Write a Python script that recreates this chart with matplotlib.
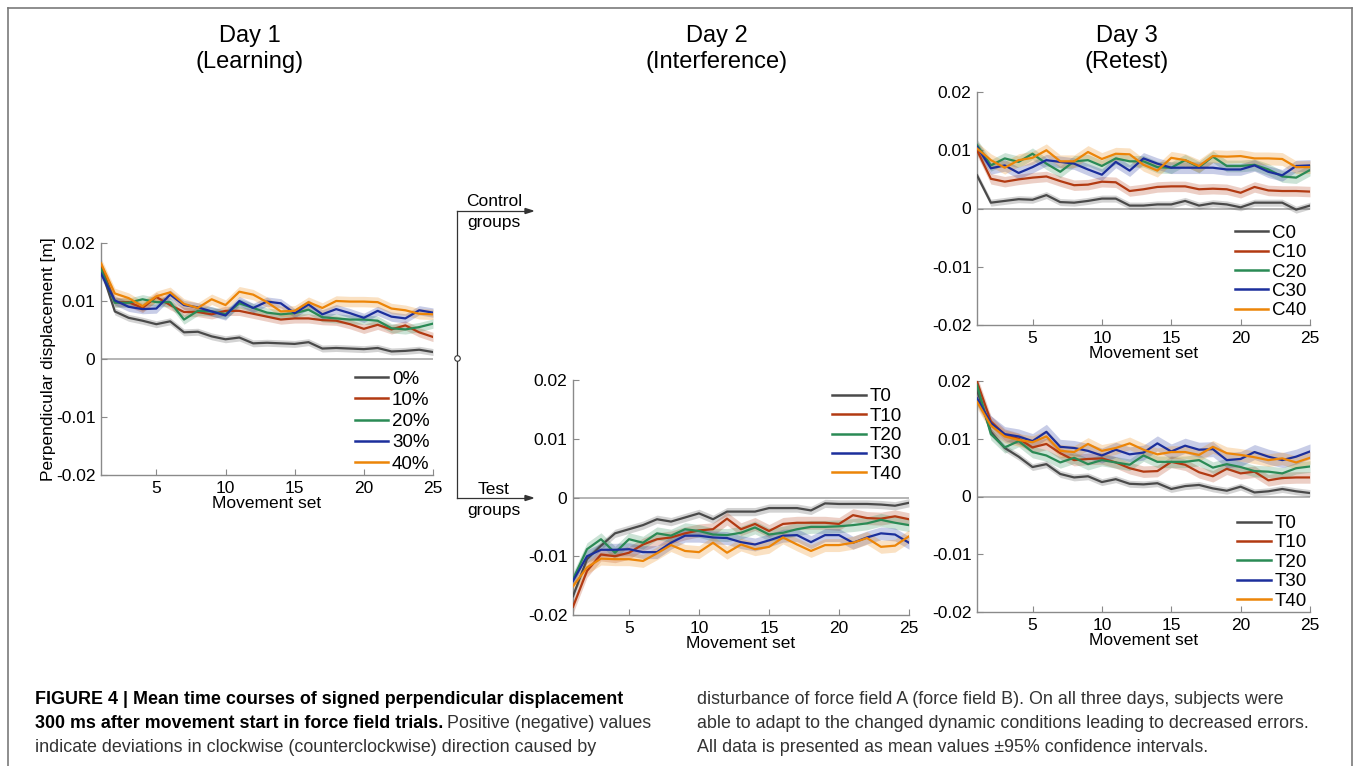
import matplotlib
matplotlib.use("Agg")
import matplotlib.pyplot as plt
from matplotlib.lines import Line2D
import numpy as np

plt.rcParams['font.family'] = ['Liberation Sans', 'DejaVu Sans']

movement_set = list(range(1, 26))

# ---- Day 1 (Learning) ----
day1_labels = ["0%", "10%", "20%", "30%", "40%"]
day1_0 = [0.0155, 0.0082, 0.0071, 0.0066, 0.0060, 0.0065, 0.0046, 0.0047, 0.0039, 0.0034, 0.0037, 0.0027, 0.0028,
          0.0027, 0.0026, 0.0029, 0.0018, 0.0019, 0.0018, 0.0017, 0.0019, 0.0013, 0.0014, 0.0016, 0.0012]
day1_10 = [0.0162, 0.0098, 0.0098, 0.0088, 0.0107, 0.0093, 0.0081, 0.0081, 0.0077, 0.0083, 0.0083, 0.0078, 0.0073,
           0.0068, 0.0070, 0.0070, 0.0067, 0.0066, 0.0060, 0.0052, 0.0059, 0.0051, 0.0058, 0.0046, 0.0038]
day1_20 = [0.0155, 0.0097, 0.0097, 0.0103, 0.0098, 0.0098, 0.0068, 0.0083, 0.0082, 0.0077, 0.0096, 0.0088, 0.0080,
           0.0077, 0.0079, 0.0085, 0.0072, 0.0070, 0.0068, 0.0068, 0.0066, 0.0053, 0.0051, 0.0055, 0.0061]
day1_30 = [0.0147, 0.0101, 0.0090, 0.0086, 0.0087, 0.0111, 0.0093, 0.0089, 0.0082, 0.0075, 0.0100, 0.0088, 0.0099,
           0.0096, 0.0079, 0.0094, 0.0077, 0.0086, 0.0079, 0.0071, 0.0083, 0.0073, 0.0070, 0.0084, 0.0080]
day1_40 = [0.0165, 0.0113, 0.0105, 0.0091, 0.0108, 0.0115, 0.0095, 0.0088, 0.0103, 0.0093, 0.0116, 0.0111, 0.0098,
           0.0082, 0.0083, 0.0098, 0.0088, 0.0100, 0.0099, 0.0099, 0.0098, 0.0087, 0.0084, 0.0078, 0.0077]
day1_ci = [0.0006, 0.0008, 0.0008, 0.0008, 0.0009]

# ---- Day 2 (Interference), test groups ----
day2_labels = ["T0", "T10", "T20", "T30", "T40"]
day2_T0 = [-0.0168, -0.0105, -0.0082, -0.0061, -0.0054, -0.0047, -0.0037, -0.0041, -0.0034, -0.0027, -0.0037, -0.0024,
           -0.0024, -0.0024, -0.0018, -0.0018, -0.0018, -0.0022, -0.0010, -0.0011, -0.0011, -0.0011, -0.0012, -0.0014, -0.0009]
day2_T10 = [-0.0186, -0.0125, -0.0097, -0.0100, -0.0094, -0.0080, -0.0071, -0.0068, -0.0061, -0.0056, -0.0054, -0.0036,
            -0.0054, -0.0045, -0.0057, -0.0045, -0.0043, -0.0043, -0.0043, -0.0045, -0.0030, -0.0035, -0.0036, -0.0032, -0.0037]
day2_T20 = [-0.0139, -0.0088, -0.0071, -0.0094, -0.0071, -0.0077, -0.0061, -0.0065, -0.0054, -0.0057, -0.0063, -0.0064,
            -0.0060, -0.0051, -0.0063, -0.0060, -0.0054, -0.0050, -0.0050, -0.0049, -0.0047, -0.0044, -0.0038, -0.0043, -0.0047]
day2_T30 = [-0.0142, -0.0100, -0.0089, -0.0089, -0.0088, -0.0093, -0.0093, -0.0077, -0.0065, -0.0065, -0.0068, -0.0069,
            -0.0076, -0.0080, -0.0073, -0.0065, -0.0064, -0.0076, -0.0064, -0.0064, -0.0077, -0.0068, -0.0061, -0.0063, -0.0077]
day2_T40 = [-0.0151, -0.0119, -0.0104, -0.0105, -0.0105, -0.0108, -0.0095, -0.0081, -0.0091, -0.0093, -0.0077, -0.0094,
            -0.0080, -0.0088, -0.0084, -0.0068, -0.0080, -0.0091, -0.0081, -0.0081, -0.0077, -0.0069, -0.0084, -0.0082, -0.0066]
day2_ci = [0.0007, 0.0011, 0.0011, 0.0011, 0.0011]

# ---- Day 3 (Retest), control groups ----
day3c_labels = ["C0", "C10", "C20", "C30", "C40"]
day3_C0 = [0.0057, 0.0010, 0.0013, 0.0016, 0.0015, 0.0023, 0.0011, 0.0010, 0.0013, 0.0017, 0.0017, 0.0005, 0.0005,
           0.0007, 0.0007, 0.0013, 0.0005, 0.0009, 0.0007, 0.0002, 0.0010, 0.0010, 0.0010, -0.0002, 0.0005]
day3_C10 = [0.0100, 0.0051, 0.0046, 0.0050, 0.0053, 0.0055, 0.0047, 0.0040, 0.0041, 0.0046, 0.0045, 0.0030, 0.0033,
            0.0037, 0.0038, 0.0038, 0.0033, 0.0034, 0.0033, 0.0027, 0.0037, 0.0031, 0.0030, 0.0030, 0.0029]
day3_C20 = [0.0109, 0.0074, 0.0086, 0.0080, 0.0094, 0.0077, 0.0063, 0.0081, 0.0083, 0.0073, 0.0086, 0.0081, 0.0081,
            0.0071, 0.0070, 0.0083, 0.0071, 0.0089, 0.0073, 0.0073, 0.0075, 0.0067, 0.0055, 0.0053, 0.0066]
day3_C30 = [0.0106, 0.0069, 0.0074, 0.0061, 0.0071, 0.0083, 0.0080, 0.0077, 0.0067, 0.0058, 0.0080, 0.0065, 0.0086,
            0.0077, 0.0070, 0.0070, 0.0070, 0.0070, 0.0067, 0.0067, 0.0074, 0.0063, 0.0057, 0.0073, 0.0074]
day3_C40 = [0.0103, 0.0083, 0.0070, 0.0083, 0.0087, 0.0100, 0.0081, 0.0081, 0.0097, 0.0085, 0.0094, 0.0093, 0.0075,
            0.0065, 0.0087, 0.0083, 0.0073, 0.0090, 0.0089, 0.0090, 0.0086, 0.0086, 0.0085, 0.0071, 0.0071]
day3c_ci = [0.0006, 0.0009, 0.0010, 0.0010, 0.0011]

# ---- Day 3 (Retest), test groups ----
day3t_labels = ["T0", "T10", "T20", "T30", "T40"]
day3_T0 = [0.0184, 0.0112, 0.0084, 0.0069, 0.0051, 0.0056, 0.0039, 0.0033, 0.0035, 0.0025, 0.0030, 0.0022, 0.0021,
           0.0023, 0.0013, 0.0018, 0.0020, 0.0014, 0.0010, 0.0017, 0.0007, 0.0009, 0.0013, 0.0009, 0.0006]
day3_T10 = [0.0199, 0.0130, 0.0107, 0.0100, 0.0085, 0.0091, 0.0075, 0.0063, 0.0065, 0.0066, 0.0059, 0.0049, 0.0043,
            0.0044, 0.0060, 0.0055, 0.0042, 0.0035, 0.0048, 0.0040, 0.0043, 0.0028, 0.0032, 0.0033, 0.0033]
day3_T20 = [0.0193, 0.0108, 0.0085, 0.0096, 0.0077, 0.0071, 0.0059, 0.0067, 0.0056, 0.0063, 0.0059, 0.0055, 0.0071,
            0.0060, 0.0060, 0.0060, 0.0063, 0.0050, 0.0056, 0.0051, 0.0044, 0.0043, 0.0040, 0.0049, 0.0052]
day3_T30 = [0.0170, 0.0127, 0.0108, 0.0104, 0.0096, 0.0112, 0.0086, 0.0084, 0.0079, 0.0071, 0.0081, 0.0073, 0.0076,
            0.0092, 0.0078, 0.0088, 0.0081, 0.0082, 0.0063, 0.0065, 0.0077, 0.0069, 0.0063, 0.0069, 0.0078]
day3_T40 = [0.0164, 0.0123, 0.0104, 0.0098, 0.0094, 0.0104, 0.0079, 0.0077, 0.0091, 0.0079, 0.0084, 0.0092, 0.0081,
            0.0073, 0.0077, 0.0077, 0.0072, 0.0086, 0.0075, 0.0072, 0.0068, 0.0063, 0.0066, 0.0059, 0.0067]
day3t_ci = [0.0006, 0.0010, 0.0010, 0.0013, 0.0011]

colors = ["#4a4a4a", "#b23a12", "#2a8a55", "#1c2f9c", "#ec8508"]

y_ticks = [-0.02, -0.01, 0, 0.01, 0.02]
y_ticklabels = ["-0.02", "-0.01", "0", "0.01", "0.02"]
x_ticks = [5, 10, 15, 20, 25]

W, H = 1357, 766
fig = plt.figure(figsize=(W / 100, H / 100), dpi=100)


def px_axes(left, top, right, bottom):
    return fig.add_axes([left / W, 1 - bottom / H, (right - left) / W, (bottom - top) / H])


def draw_panel(ax, series, labels, cis, leg_anchor, leg_spacing):
    ax.axhline(0, color="#a0a0a0", lw=1.1, zorder=1)
    for s, lab, c, ci in zip(series, labels, colors, cis):
        s = np.array(s)
        ax.fill_between(movement_set, s - ci, s + ci, color=c, alpha=0.24, lw=0, zorder=2)
    for s, lab, c in zip(series, labels, colors):
        ax.plot(movement_set, s, color=c, lw=1.6, label=lab, zorder=3)
    ax.set_xlim(1, 25)
    ax.set_ylim(-0.02, 0.02)
    ax.set_yticks(y_ticks)
    ax.set_yticklabels(y_ticklabels)
    ax.set_xticks(x_ticks)
    for sp in ["top", "right"]:
        ax.spines[sp].set_visible(False)
    for sp in ["left", "bottom"]:
        ax.spines[sp].set_color("#8a8a8a")
        ax.spines[sp].set_linewidth(1.0)
    ax.tick_params(direction="in", length=4, width=0.8, color="#8a8a8a", labelsize=12.5, pad=4)
    ax.set_xlabel("Movement set", fontsize=12.5, labelpad=0)
    ax.patch.set_alpha(0)
    leg = ax.legend(loc="upper right", bbox_to_anchor=leg_anchor, frameon=False, fontsize=13.5,
                    handlelength=1.8, handletextpad=0.2, labelspacing=leg_spacing, borderaxespad=0,
                    borderpad=0)
    for h in leg.legend_handles:
        h.set_linewidth(1.8)


ax1 = px_axes(101, 243, 433, 475)
draw_panel(ax1, [day1_0, day1_10, day1_20, day1_30, day1_40], day1_labels, day1_ci, (0.99, 0.45), 0.22)
ax1.set_ylabel("Perpendicular displacement [m]", fontsize=12.5, labelpad=0)

ax2 = px_axes(573, 380, 909, 615)
draw_panel(ax2, [day2_T0, day2_T10, day2_T20, day2_T30, day2_T40], day2_labels, day2_ci, (0.98, 0.965), 0.12)

ax3 = px_axes(977, 92, 1310, 325)
draw_panel(ax3, [day3_C0, day3_C10, day3_C20, day3_C30, day3_C40], day3c_labels, day3c_ci, (0.99, 0.43), 0.12)

ax4 = px_axes(977, 381, 1310, 612)
draw_panel(ax4, [day3_T0, day3_T10, day3_T20, day3_T30, day3_T40], day3t_labels, day3t_ci, (0.99, 0.42), 0.12)

# Titles
for cx, txt in [(250, "Day 1\n(Learning)"), (717, "Day 2\n(Interference)"), (1127, "Day 3\n(Retest)")]:
    fig.text(cx / W, 1 - 49 / H, txt, ha="center", va="center", fontsize=17, linespacing=1.25)


def fx(x):
    return x / W


def fy(y):
    return 1 - y / H


# Bracket connecting Day 1 to the two groups
fig.add_artist(Line2D([fx(457), fx(457)], [fy(211), fy(498)], color="#333333", lw=0.9))
for yy in (211, 498):
    fig.add_artist(Line2D([fx(457), fx(527)], [fy(yy), fy(yy)], color="#333333", lw=0.9))
    fig.patches.append(plt.Polygon([[fx(533), fy(yy)], [fx(525), fy(yy - 2.5)], [fx(525), fy(yy + 2.5)]],
                                   closed=True, color="#333333", transform=fig.transFigure, figure=fig))
fig.add_artist(Line2D([fx(457)], [fy(358)], marker="o", markersize=4, markerfacecolor="white",
                      markeredgecolor="#333333", markeredgewidth=0.8, lw=0))
fig.text(fx(494), fy(202), "Control", ha="center", va="center", fontsize=12.5)
fig.text(fx(494), fy(222), "groups", ha="center", va="center", fontsize=12.5)
fig.text(fx(494), fy(490), "Test", ha="center", va="center", fontsize=12.5)
fig.text(fx(494), fy(510), "groups", ha="center", va="center", fontsize=12.5)

# Outer frame
frame_c = "#7a7a7a"
fig.add_artist(Line2D([fx(8), fx(1352)], [fy(8), fy(8)], color=frame_c, lw=1.2))
fig.add_artist(Line2D([fx(8), fx(8)], [fy(8), 0], color=frame_c, lw=1.2))
fig.add_artist(Line2D([fx(1352), fx(1352)], [fy(8), 0], color=frame_c, lw=1.2))

# Caption
cap_fs = 12.9
cy = [700, 724, 747]
fig.text(fx(35), fy(cy[0]), "FIGURE 4 | Mean time courses of signed perpendicular displacement",
         fontsize=cap_fs, fontweight="bold", va="center", ha="left")
t = fig.text(fx(35), fy(cy[1]), "300 ms after movement start in force field trials.",
             fontsize=cap_fs, fontweight="bold", va="center", ha="left")
fig.canvas.draw()
bb = t.get_window_extent(renderer=fig.canvas.get_renderer())
fig.text((bb.x1 + 4) / W, fy(cy[1]), "Positive (negative) values",
         fontsize=cap_fs, va="center", ha="left", color="#333333")
fig.text(fx(35), fy(cy[2]), "indicate deviations in clockwise (counterclockwise) direction caused by",
         fontsize=cap_fs, va="center", ha="left", color="#333333")
fig.text(fx(697), fy(cy[0]), "disturbance of force field A (force field B). On all three days, subjects were",
         fontsize=cap_fs, va="center", ha="left", color="#333333")
fig.text(fx(697), fy(cy[1]), "able to adapt to the changed dynamic conditions leading to decreased errors.",
         fontsize=cap_fs, va="center", ha="left", color="#333333")
fig.text(fx(697), fy(cy[2]), "All data is presented as mean values \u00b195% confidence intervals.",
         fontsize=cap_fs, va="center", ha="left", color="#333333")

fig.savefig("out.png", dpi=100)
